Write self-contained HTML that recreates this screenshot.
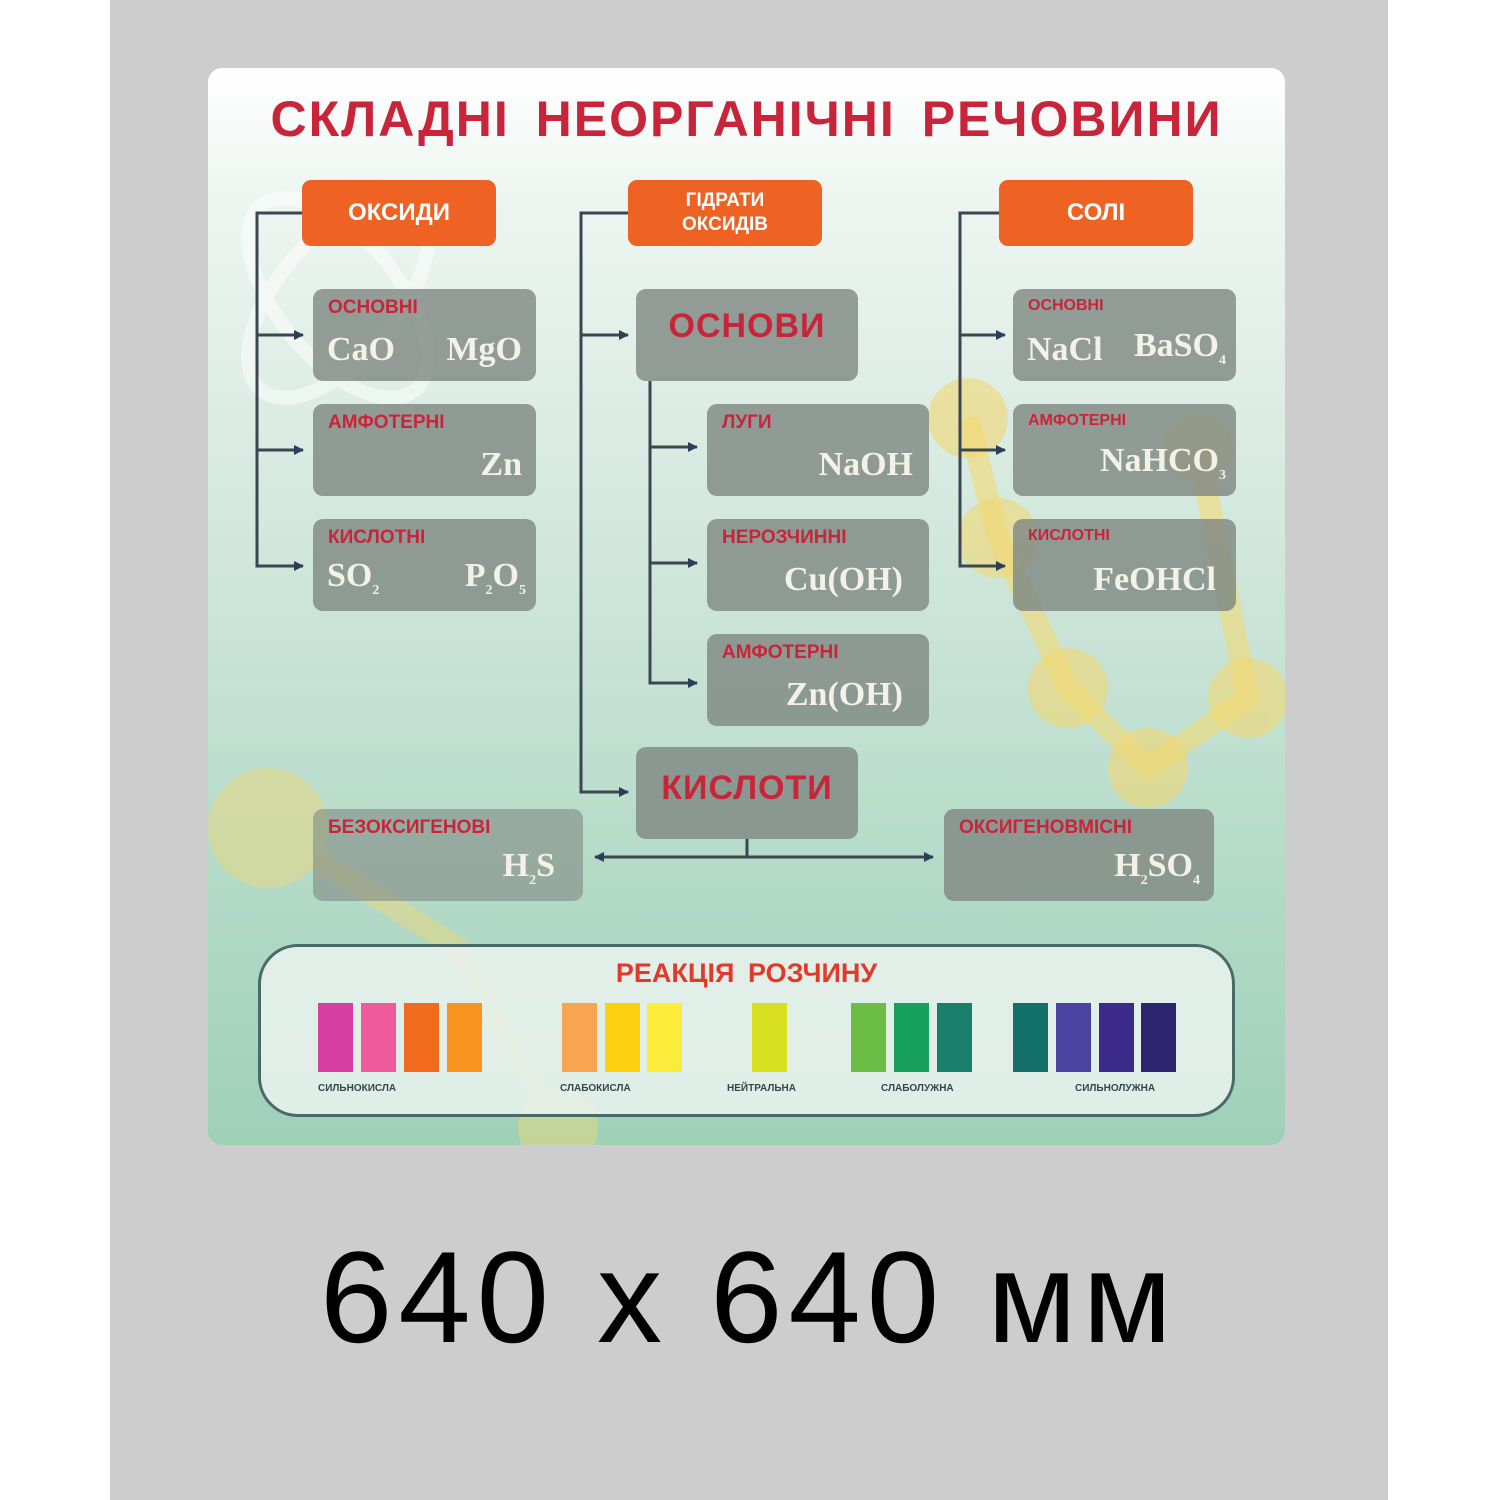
<!DOCTYPE html>
<html><head><meta charset="utf-8">
<style>
*{margin:0;padding:0;box-sizing:border-box}
body{width:1500px;height:1500px;background:#fff;position:relative;overflow:hidden;font-family:"Liberation Sans",sans-serif}
.a{position:absolute}
#gray{left:110px;top:0;width:1278px;height:1500px;background:#cdcdcd}
#poster{left:208px;top:68px;width:1077px;height:1077px;border-radius:14px;overflow:hidden;background:linear-gradient(180deg,#ffffff 0%,#eef5f1 12%,#d5e9df 40%,#b4dac8 75%,#9fd0b8 100%)}
.or{background:#ee6224;border-radius:9px;color:#fff;font-weight:bold;text-align:center;display:flex;align-items:center;justify-content:center;line-height:1.25}
.g{background:rgba(128,137,132,0.82);border-radius:10px}
.lb{position:absolute;left:15px;top:8px;color:#c8253a;font-weight:bold;font-size:19px}
.f{position:absolute;color:#f4f1e8;font-family:"Liberation Serif",serif;font-weight:bold;font-size:34px;bottom:12px}
.f sub{font-size:14px}
.big{color:#c8253a;font-weight:bold;font-size:34px;text-align:center;letter-spacing:1px}
.s{position:absolute;top:1003px;width:35px;height:69px}
.sl{position:absolute;top:1083px;font-size:10px;font-weight:bold;color:#33484a}
</style></head><body>
<div class="a" id="gray"></div>
<div class="a" id="poster">
<svg width="1077" height="1077" style="position:absolute;left:0;top:0">
<g fill="none" stroke="#fff" stroke-width="14" opacity="0.5">
<ellipse cx="130" cy="230" rx="120" ry="60" transform="rotate(-50 130 230)"/>
<ellipse cx="130" cy="230" rx="120" ry="60" transform="rotate(50 130 230)"/>
</g>
<g fill="#f2d873" opacity="0.6">
<circle cx="760" cy="350" r="40"/><circle cx="790" cy="470" r="40"/><circle cx="990" cy="380" r="35"/>
<circle cx="1040" cy="630" r="40"/><circle cx="860" cy="620" r="40"/><circle cx="940" cy="700" r="40"/>
</g>
<g stroke="#f2d873" stroke-width="22" opacity="0.6" fill="none">
<path d="M760 350 L790 470 L860 620 L940 700 L1040 630 L990 380"/>
</g>
<g opacity="0.45"><circle cx="60" cy="760" r="60" fill="#f2d873"/><circle cx="350" cy="1060" r="40" fill="#f2d873"/>
<path d="M60 760 L250 880 L350 1060" stroke="#f2d873" stroke-width="22" fill="none"/></g>
</svg>
</div>
<div class="a" style="left:208px;top:90px;width:1077px;text-align:center;color:#c8253a;font-weight:bold;font-size:50px;letter-spacing:2px;word-spacing:10px">СКЛАДНІ НЕОРГАНІЧНІ РЕЧОВИНИ</div>

<svg class="a" style="left:0;top:0" width="1500" height="1500">
<defs><marker id="ar" markerWidth="10" markerHeight="10" refX="9" refY="5" orient="auto" markerUnits="userSpaceOnUse"><path d="M0,0 L10,5 L0,10z" fill="#2d3d5a"/></marker>
<marker id="al" markerWidth="10" markerHeight="10" refX="1" refY="5" orient="auto" markerUnits="userSpaceOnUse"><path d="M10,0 L0,5 L10,10z" fill="#2d3d5a"/></marker></defs>
<g stroke="#3c4650" stroke-width="3" fill="none">
<path d="M302 213 H257 V566 H303" marker-end="url(#ar)"/>
<path d="M257 335 H303" marker-end="url(#ar)"/><path d="M257 450 H303" marker-end="url(#ar)"/>
<path d="M628 213 H581 V792 H628" marker-end="url(#ar)"/>
<path d="M581 335 H628" marker-end="url(#ar)"/>
<path d="M650 381 V683 H697" marker-end="url(#ar)"/>
<path d="M650 447 H697" marker-end="url(#ar)"/><path d="M650 563 H697" marker-end="url(#ar)"/>
<path d="M999 213 H960 V566 H1005" marker-end="url(#ar)"/>
<path d="M960 335 H1005" marker-end="url(#ar)"/><path d="M960 450 H1005" marker-end="url(#ar)"/>
<path d="M747 839 V857"/>
<path d="M595 857 H933" marker-start="url(#al)" marker-end="url(#ar)"/>
</g></svg>

<div class="a or" style="left:302px;top:180px;width:194px;height:66px;font-size:24px">ОКСИДИ</div>
<div class="a or" style="left:628px;top:180px;width:194px;height:66px;font-size:19px">ГІДРАТИ<br>ОКСИДІВ</div>
<div class="a or" style="left:999px;top:180px;width:194px;height:66px;font-size:24px">СОЛІ</div>

<div class="a g" style="left:313px;top:289px;width:223px;height:92px"><div class="lb">ОСНОВНІ</div><div class="f" style="left:14px">CaO</div><div class="f" style="right:14px">MgO</div></div>
<div class="a g" style="left:313px;top:404px;width:223px;height:92px"><div class="lb">АМФОТЕРНІ</div><div class="f" style="right:14px">Zn</div></div>
<div class="a g" style="left:313px;top:519px;width:223px;height:92px"><div class="lb">КИСЛОТНІ</div><div class="f" style="left:14px">SO<sub>2</sub></div><div class="f" style="right:10px">P<sub>2</sub>O<sub>5</sub></div></div>

<div class="a g big" style="left:636px;top:289px;width:222px;height:92px;padding-top:18px">ОСНОВИ</div>
<div class="a g" style="left:707px;top:404px;width:222px;height:92px"><div class="lb">ЛУГИ</div><div class="f" style="right:16px">NaOH</div></div>
<div class="a g" style="left:707px;top:519px;width:222px;height:92px"><div class="lb">НЕРОЗЧИННІ</div><div class="f" style="right:26px">Cu(OH)</div></div>
<div class="a g" style="left:707px;top:634px;width:222px;height:92px"><div class="lb">АМФОТЕРНІ</div><div class="f" style="right:26px">Zn(OH)</div></div>
<div class="a g big" style="left:636px;top:747px;width:222px;height:92px;padding-top:22px">КИСЛОТИ</div>

<div class="a g" style="left:313px;top:809px;width:270px;height:92px;background:rgba(128,137,132,0.6)"><div class="lb">БЕЗОКСИГЕНОВІ</div><div class="f" style="right:28px">H<sub>2</sub>S</div></div>
<div class="a g" style="left:944px;top:809px;width:270px;height:92px"><div class="lb">ОКСИГЕНОВМІСНІ</div><div class="f" style="right:14px">H<sub>2</sub>SO<sub>4</sub></div></div>

<div class="a g" style="left:1013px;top:289px;width:223px;height:92px"><div class="lb" style="font-size:16px">ОСНОВНІ</div><div class="f" style="left:14px">NaCl</div><div class="f" style="right:10px">BaSO<sub>4</sub></div></div>
<div class="a g" style="left:1013px;top:404px;width:223px;height:92px"><div class="lb" style="font-size:16px">АМФОТЕРНІ</div><div class="f" style="right:10px">NaHCO<sub>3</sub></div></div>
<div class="a g" style="left:1013px;top:519px;width:223px;height:92px"><div class="lb" style="font-size:16px">КИСЛОТНІ</div><div class="f" style="right:20px">FeOHCl</div></div>

<div class="a" style="left:258px;top:944px;width:977px;height:173px;border:3px solid #4a6a68;border-radius:40px;background:rgba(235,243,240,0.85)"></div>
<div class="a" style="left:258px;top:958px;width:977px;text-align:center;color:#e23a2a;font-weight:bold;font-size:27px;word-spacing:6px">РЕАКЦІЯ РОЗЧИНУ</div>
<div class="s" style="left:318px;background:#d63fa3"></div>
<div class="s" style="left:361px;background:#ee5a9a"></div>
<div class="s" style="left:404px;background:#f26b1d"></div>
<div class="s" style="left:447px;background:#f7931e"></div>
<div class="s" style="left:562px;background:#f9a450"></div>
<div class="s" style="left:605px;background:#fdd10f"></div>
<div class="s" style="left:647px;background:#fbec3c"></div>
<div class="s" style="left:752px;background:#d8e021"></div>
<div class="s" style="left:851px;background:#6cbd45"></div>
<div class="s" style="left:894px;background:#17a05a"></div>
<div class="s" style="left:937px;background:#1a7f6a"></div>
<div class="s" style="left:1013px;background:#136f6a"></div>
<div class="s" style="left:1056px;background:#4a44a0"></div>
<div class="s" style="left:1099px;background:#3c2a8a"></div>
<div class="s" style="left:1141px;background:#2c246c"></div>
<div class="sl" style="left:318px">СИЛЬНОКИСЛА</div>
<div class="sl" style="left:560px">СЛАБОКИСЛА</div>
<div class="sl" style="left:727px">НЕЙТРАЛЬНА</div>
<div class="sl" style="left:881px">СЛАБОЛУЖНА</div>
<div class="sl" style="left:1075px">СИЛЬНОЛУЖНА</div>

<div class="a" style="left:110px;top:1230px;width:1278px;text-align:center;font-size:130px;letter-spacing:6px;color:#000;line-height:135px">640 x 640 мм</div>
</body></html>
